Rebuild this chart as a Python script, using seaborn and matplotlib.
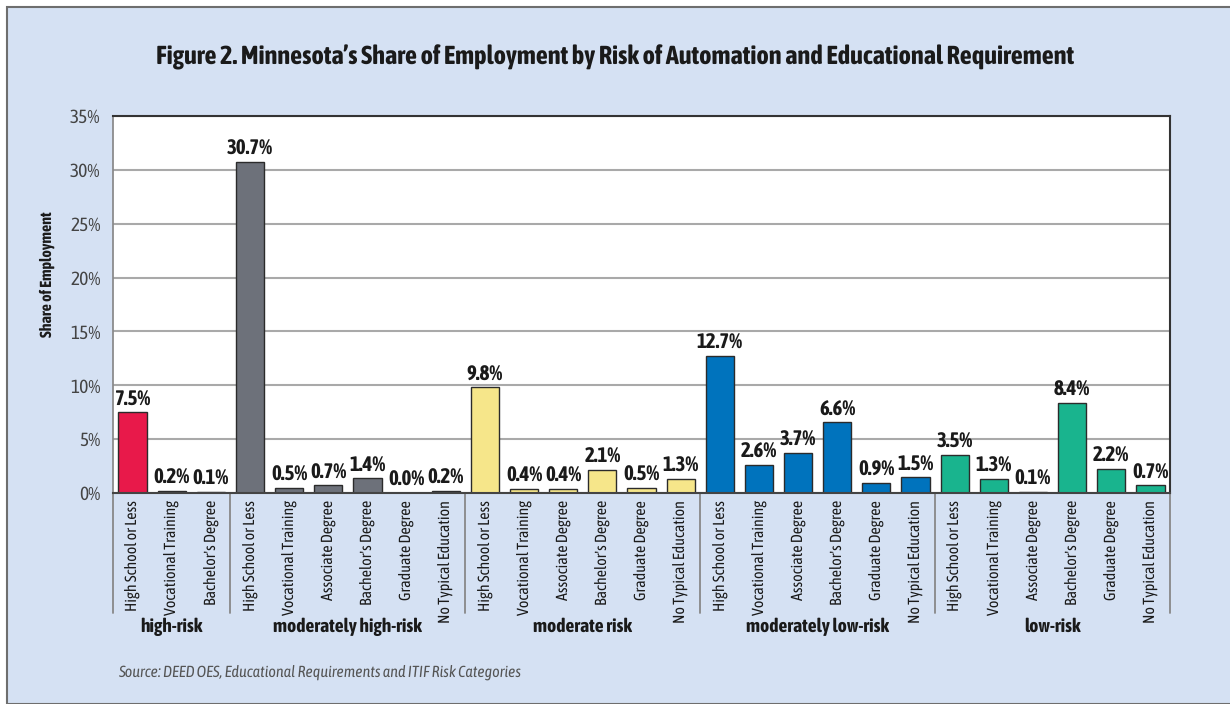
import pandas as pd
import numpy as np
import matplotlib
matplotlib.use("Agg")
import matplotlib.pyplot as plt
import seaborn as sns
from matplotlib.patches import Rectangle
from matplotlib.transforms import blended_transform_factory

# --- Daten ---------------------------------------------------------------
RISK_GROUPS = ["high-risk", "moderately high-risk", "moderate risk",
               "moderately low-risk", "low-risk"]

EDU_HIGH = ["High School or Less", "Vocational Training", "Bachelor's Degree"]
EDU_FULL = ["High School or Less", "Vocational Training", "Associate Degree",
            "Bachelor's Degree", "Graduate Degree", "No Typical Education"]

SHARE_HIGH = [7.5, 0.2, 0.1]
SHARE_MOD_HIGH = [30.7, 0.5, 0.7, 1.4, 0.0, 0.2]
SHARE_MODERATE = [9.8, 0.4, 0.4, 2.1, 0.5, 1.3]
SHARE_MOD_LOW = [12.7, 2.6, 3.7, 6.6, 0.9, 1.5]
SHARE_LOW = [3.5, 1.3, 0.1, 8.4, 2.2, 0.7]

COLORS = ["#e8194a", "#6d717a", "#f6e68a", "#0073bd", "#19b48e"]

TITLE = ("Figure 2. Minnesota\u2019s Share of Employment by Risk of Automation "
         "and Educational Requirement")
SOURCE = "Source: DEED OES, Educational Requirements and ITIF Risk Categories"

BG = "#d5e1f3"
FONT = ["Asap Condensed", "DejaVu Sans"]


def build_frame() -> pd.DataFrame:
    edus = [EDU_HIGH, EDU_FULL, EDU_FULL, EDU_FULL, EDU_FULL]
    shares = [SHARE_HIGH, SHARE_MOD_HIGH, SHARE_MODERATE, SHARE_MOD_LOW, SHARE_LOW]
    rows = []
    for risk, edu, vals in zip(RISK_GROUPS, edus, shares):
        for e, v in zip(edu, vals):
            rows.append({"key": f"{risk}|{e}", "risk": risk, "edu": e, "share": v})
    return pd.DataFrame(rows)


def main():
    sns.set_theme(style="white")
    plt.rcParams["font.family"] = FONT
    plt.rcParams["text.hinting"] = "no_hinting"

    df = build_frame()
    n = len(df)

    fig = plt.figure(figsize=(12.3, 7.04), dpi=100)
    fig.patch.set_facecolor("white")
    W, H = 1230, 704
    fig.patches.append(Rectangle((7 / W, 0), 1.1, 1 - 7 / H, transform=fig.transFigure,
                                 facecolor=BG, edgecolor="#6e6e6e", linewidth=1.5,
                                 zorder=-10))

    ax = fig.add_axes([113 / W, 1 - 493 / H, (1170 - 113) / W, (493 - 116) / H])
    sns.barplot(data=df, x="key", y="share", hue="risk", hue_order=RISK_GROUPS,
                palette=COLORS, saturation=1, dodge=False, width=0.72,
                edgecolor="#2b2b2b", linewidth=1.0, legend=False, ax=ax)

    ax.set_facecolor("white")
    ax.set_ylim(0, 35)
    ax.set_xlim(-0.5, n - 0.5)
    ax.set_yticks(range(0, 36, 5))
    ax.set_yticklabels([f"{t}%" for t in range(0, 36, 5)], fontsize=14, color="#444444")
    ax.yaxis.grid(True, color="#a9a9a9", linewidth=1.5)
    ax.set_axisbelow(True)
    ax.set_xlabel("")
    ax.set_ylabel("")

    ax.set_xticks(range(n))
    ax.set_xticklabels(df["edu"], rotation=90, fontsize=11.5, color="#1a1a1a")
    ax.tick_params(axis="x", length=0, pad=5)
    ax.tick_params(axis="y", length=0, pad=9)
    ax.set_xticks(np.arange(-0.5, n, 1.0), minor=True)
    ax.tick_params(axis="x", which="minor", direction="in", length=6,
                   color="#999999", width=1.2)

    for side in ["top", "right"]:
        ax.spines[side].set_color("#333333")
        ax.spines[side].set_linewidth(1.5)
    ax.spines["left"].set_color("#888888")
    ax.spines["bottom"].set_color("#444444")
    ax.spines["bottom"].set_linewidth(1.5)

    for cont in ax.containers:
        ax.bar_label(cont, fmt="%.1f%%", padding=2, fontsize=15,
                     fontweight="bold", color="#1a1a1a")

    # Gruppentrenner und Gruppenbeschriftungen unter der Achse
    trans = blended_transform_factory(ax.transData, ax.transAxes)
    sizes = df.groupby("risk", sort=False).size().tolist()
    bounds = np.concatenate([[0], np.cumsum(sizes)]) - 0.5
    y_low = -(613 - 493) / (493 - 116)
    for b in bounds:
        ax.plot([b, b], [0, y_low], transform=trans, color="#888888",
                linewidth=1.3, clip_on=False)
    y_grp = -(627 - 493) / (493 - 116)
    for risk, lo, hi in zip(RISK_GROUPS, bounds[:-1], bounds[1:]):
        ax.text((lo + hi) / 2, y_grp, risk, transform=trans, ha="center", va="center",
                fontsize=14, fontweight="bold", color="#1a1a1a")

    fig.text(615 / W, 1 - 57 / H, TITLE, ha="center", va="center", fontsize=19,
             fontweight="bold", color="#1a1a1a")
    fig.text(47 / W, 1 - 274 / H, "Share of Employment", rotation=90, ha="center",
             va="center", fontsize=11.5, fontweight="bold", color="#1a1a1a")
    fig.text(118 / W, 1 - 672 / H, SOURCE, ha="left", va="center", fontsize=11.5,
             style="italic", color="#555555")

    fig.savefig("out.png", dpi=100, facecolor=fig.get_facecolor())
    plt.close(fig)


if __name__ == "__main__":
    main()
